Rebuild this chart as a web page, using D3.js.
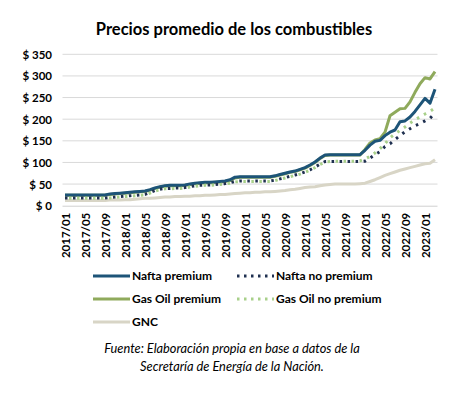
<!DOCTYPE html>
<html>
<head>
<meta charset="utf-8">
<script src="https://cdn.jsdelivr.net/npm/d3@7"></script>
<style>
  html, body { margin: 0; padding: 0; background: #fff; }
  svg { display: block; }
  text { font-family: Lato, "Open Sans", sans-serif; fill: #000; }
</style>
</head>
<body>
<svg id="chart" width="474" height="396"></svg>
<script>
// ---------- data ----------
const months = [];
for (let y = 2017; y <= 2023; y++) {
  for (let m = 1; m <= 12; m++) {
    if (y === 2023 && m > 3) break;
    months.push(y + "/" + String(m).padStart(2, "0"));
  }
}
const tickLabels = ["2017/01","2017/05","2017/09","2018/01","2018/05","2018/09","2019/01","2019/05","2019/09","2020/01","2020/05","2020/09","2021/01","2021/05","2021/09","2022/01","2022/05","2022/09","2023/01"];
const yTicks = [0, 50, 100, 150, 200, 250, 300, 350];

const naftaPremium = [25,25,25,25,25,25,25,25,25,27,28,29,30,31,32,33,34,37,41,44,46,47,47,47,48,50,52,53,54,54,55,56,57,60,66,67,67,67,67,67,67,67,69,72,75,78,80,84,88,94,101,110,117,118,118,118,118,118,118,118,128,140,149,151,162,170,175,194,196,205,218,233,248,237,269];
const naftaNoPremium = [18,18,18,18,18,18,18,18,18,19,20,21,22,23,24,25,26,30,35,38,40,40,41,41,42,44,46,47,48,48,49,50,51,53,56,57,57,57,57,57,57,57,59,62,65,68,71,74,78,83,89,96,102,102,102,102,102,102,102,102,103,110,118,125,137,143,153,162,171,178,185,190,196,202,214];
const gasOilPremium = [24,24,24,24,24,24,24,24,24,26,27,28,29,30,31,32,33,36,40,43,45,46,46,46,47,49,51,52,53,53,54,55,56,58,64,66,66,66,66,66,66,66,68,71,74,77,79,83,87,93,100,109,116,117,117,117,117,117,117,117,130,145,152,155,170,208,216,224,225,240,262,282,296,293,310];
const gasOilNoPremium = [17,17,17,17,17,17,17,17,17,18,19,20,21,22,23,24,25,29,34,37,39,39,40,40,41,43,45,46,47,47,48,49,50,52,55,56,56,56,56,56,56,56,58,61,64,67,70,73,77,82,88,95,101,102,103,103,103,103,103,104,108,114,122,132,143,157,166,174,182,191,199,205,212,218,226];
const gnc = [12,12,12,12,12,12,12,12,12,13,13,13,14,14,15,16,17,17,18,19,20,20,21,21,22,22,23,23,24,24,25,26,26,27,28,29,30,30,31,31,32,32,33,34,35,37,38,40,42,43,44,46,48,49,50,50,50,50,50,51,52,56,60,65,70,74,78,82,85,88,91,94,97,98,106];

const seriesNames = ["Nafta premium","Nafta no premium","Gas Oil premium","Gas Oil no premium","GNC"];
const sourceLines = ["Fuente: Elaboración propia en base a datos de la","Secretaría de Energía de la Nación."];
const titleText = "Precios promedio de los combustibles";

// ---------- styles ----------
const styles = {
  "Nafta premium":      { color: "#1d5478", width: 3, dash: null },
  "Nafta no premium":   { color: "#1f3050", width: 3, dash: "2.5,5.5" },
  "Gas Oil premium":    { color: "#8faa5c", width: 3, dash: null },
  "Gas Oil no premium": { color: "#a8d08a", width: 3, dash: "2.5,5.5" },
  "GNC":                { color: "#d8d5c6", width: 3, dash: null }
};
const seriesData = {
  "Nafta premium": naftaPremium,
  "Nafta no premium": naftaNoPremium,
  "Gas Oil premium": gasOilPremium,
  "Gas Oil no premium": gasOilNoPremium,
  "GNC": gnc
};

// ---------- layout ----------
const svg = d3.select("#chart");
const plot = { left: 62.5, right: 437.5, top: 54.3, bottom: 205.7 };

const x = d3.scalePoint().domain(months).range([plot.left, plot.right]).padding(0.5);
const y = d3.scaleLinear().domain([0, 350]).range([plot.bottom, plot.top]);

// title
svg.append("text")
  .attr("x", 234).attr("y", 35)
  .attr("text-anchor", "middle")
  .style("font-size", "16.5px").style("font-weight", "700")
  .text(titleText);

// gridlines
svg.append("g")
  .selectAll("line").data(yTicks.filter(d => d > 0)).join("line")
  .attr("x1", plot.left).attr("x2", plot.right)
  .attr("y1", d => y(d)).attr("y2", d => y(d))
  .attr("stroke", "#d9d9d9").attr("stroke-width", 1);

// y axis labels
const yAxis = d3.axisLeft(y).tickValues(yTicks).tickSize(0).tickPadding(0)
  .tickFormat(d => "$ " + d);
const gy = svg.append("g").attr("transform", `translate(52,0)`).call(yAxis);
gy.select(".domain").remove();
gy.selectAll("text").style("font-size", "11.5px").style("font-weight", "700")
  .style("font-family", "Lato, sans-serif").attr("fill", "#000").attr("dy", "0.35em");

// x axis
const xAxis = d3.axisBottom(x).tickValues(tickLabels).tickSize(0).tickPadding(0);
const gx = svg.append("g").attr("transform", `translate(0,${plot.bottom})`).call(xAxis);
gx.select(".domain").attr("stroke", "#d0d0d0").attr("stroke-width", 1)
  .attr("d", `M${plot.left},0.5H${plot.right}`);
gx.selectAll("text")
  .style("font-size", "11.5px").style("font-weight", "700")
  .style("font-family", "Lato, sans-serif").attr("fill", "#000")
  .attr("text-anchor", "end")
  .attr("transform", "rotate(-90)")
  .attr("x", -7).attr("y", 0).attr("dy", "0.35em");

// lines
const line = d3.line().x((d, i) => x(months[i])).y(d => y(d)).curve(d3.curveLinear);
const drawOrder = ["GNC","Gas Oil premium","Nafta premium","Nafta no premium","Gas Oil no premium"];
const gl = svg.append("g");
drawOrder.forEach(name => {
  const s = styles[name];
  gl.append("path")
    .datum(seriesData[name])
    .attr("d", line)
    .attr("fill", "none")
    .attr("stroke", s.color)
    .attr("stroke-width", s.width)
    .attr("stroke-linejoin", "round")
    .attr("stroke-dasharray", s.dash)
    .attr("stroke-dashoffset", name === "Gas Oil no premium" ? 4 : 0);
});

// legend
const legendPos = {
  "Nafta premium":      [93, 276],
  "Nafta no premium":   [237, 276],
  "Gas Oil premium":    [93, 299],
  "Gas Oil no premium": [237, 299],
  "GNC":                [93, 322]
};
const lg = svg.append("g");
seriesNames.forEach(name => {
  const [lx, ly] = legendPos[name];
  const s = styles[name];
  lg.append("line")
    .attr("x1", lx).attr("x2", lx + 37).attr("y1", ly).attr("y2", ly)
    .attr("stroke", s.color).attr("stroke-width", 3)
    .attr("stroke-dasharray", s.dash ? "2.5,4.5" : null);
  lg.append("text")
    .attr("x", lx + 39).attr("y", ly).attr("dy", "0.35em")
    .style("font-size", "12px").style("font-weight", "700")
    .text(name);
});

// source note
svg.append("g").selectAll("text").data(sourceLines).join("text")
  .attr("x", 232).attr("y", (d, i) => 349 + i * 18).attr("dy", "0.35em")
  .attr("text-anchor", "middle")
  .style("font-size", "12.8px").style("font-style", "italic")
  .attr("fill", "#222")
  .text(d => d);
</script>
</body>
</html>
